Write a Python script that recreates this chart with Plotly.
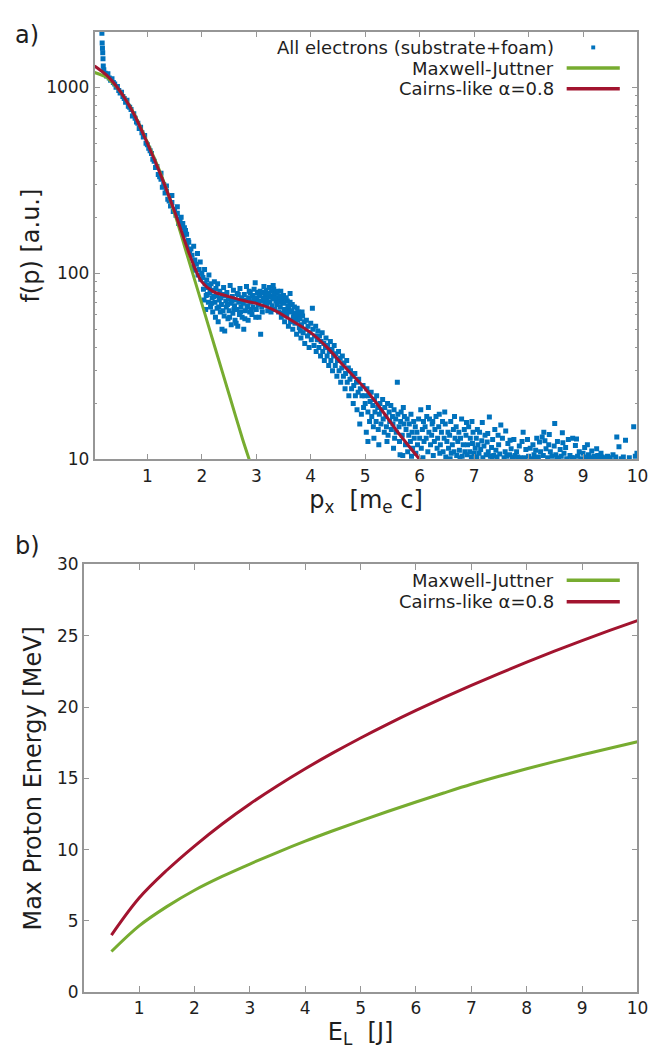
import plotly.graph_objects as go

# ---------------- panel a data ----------------
pts_peak = [(0.165, 1950), (0.17, 1730), (0.175, 1620), (0.18, 1530), (0.185, 1420), (0.19, 1300)]

pts_thermal = [
    (0.200, 1240), (0.225, 1190), (0.250, 1150), (0.275, 1180), (0.300, 1120), (0.325, 1090),
    (0.350, 1110), (0.375, 1060), (0.400, 1040), (0.425, 1000), (0.450, 1010), (0.475, 960),
    (0.500, 930), (0.525, 940), (0.550, 890), (0.575, 870), (0.600, 830), (0.625, 850),
    (0.650, 790), (0.675, 780), (0.700, 760), (0.725, 700), (0.750, 720), (0.775, 680),
    (0.800, 650), (0.825, 640), (0.850, 600), (0.875, 610), (0.900, 570), (0.925, 540),
    (0.950, 550), (0.975, 500), (1.000, 490), (1.025, 470), (1.050, 455), (1.075, 440),
    (1.100, 410), (1.125, 400), (1.150, 370), (1.175, 375), (1.200, 340), (1.225, 330),
    (1.250, 320), (1.275, 290), (1.300, 300), (1.325, 270), (1.350, 275), (1.375, 250),
    (1.400, 245), (1.425, 230), (1.450, 240), (1.475, 215), (1.500, 220), (1.525, 205),
    (1.550, 210), (1.575, 185), (1.600, 195), (1.625, 175), (1.650, 185), (1.675, 160),
    (1.700, 170), (1.725, 140), (1.750, 150), (1.775, 130), (1.800, 135),
    (1.45, 262), (1.62, 200), (1.68, 176), (1.72, 162), (1.76, 147), (1.55, 228),
    (1.35, 295), (1.25, 345),
]

pts_knee = [
    (1.82, 125), (1.84, 108), (1.85, 140), (1.87, 118), (1.88, 104), (1.90, 112),
    (1.92, 128), (1.93, 98), (1.95, 105), (1.97, 115), (1.98, 93), (2.00, 100),
]

pts_plateau = [
    (2.02, 95), (2.03, 82), (2.05, 105), (2.06, 88), (2.08, 76), (2.09, 92), (2.11, 84),
    (2.12, 70), (2.13, 98), (2.15, 79), (2.16, 66), (2.17, 88), (2.19, 74), (2.20, 62),
    (2.21, 81), (2.23, 90), (2.24, 70), (2.25, 58), (2.27, 76), (2.28, 65), (2.29, 88),
    (2.30, 55), (2.32, 72), (2.33, 80), (2.34, 62), (2.36, 68), (2.37, 50), (2.38, 77),
    (2.40, 84), (2.41, 59), (2.42, 49), (2.44, 71), (2.45, 66), (2.46, 79), (2.48, 57),
    (2.49, 73), (2.50, 63), (2.52, 86), (2.53, 69), (2.54, 53), (2.56, 75), (2.57, 61),
    (2.58, 81), (2.60, 67), (2.61, 56), (2.62, 72), (2.64, 64), (2.65, 78), (2.66, 52),
    (2.68, 70), (2.69, 60), (2.70, 83), (2.72, 66), (2.73, 74), (2.74, 58), (2.76, 69),
    (2.77, 50), (2.78, 77), (2.80, 63), (2.81, 72), (2.82, 85), (2.84, 67), (2.85, 56),
    (2.86, 74), (2.88, 62), (2.89, 79), (2.90, 70), (2.92, 60), (2.93, 76), (2.94, 66),
    (2.96, 82), (2.97, 71), (2.98, 89), (3.00, 64), (3.01, 74), (3.02, 79), (3.04, 68),
    (3.05, 58), (3.06, 76), (3.08, 47), (3.09, 71), (3.10, 66), (3.12, 79), (3.13, 74),
    (3.14, 85), (3.16, 69), (3.17, 77), (3.18, 81), (3.20, 72), (3.21, 63), (3.22, 78),
    (3.24, 84), (3.25, 70), (3.26, 75), (3.28, 80), (3.29, 67), (3.30, 73), (3.32, 82),
    (3.33, 77), (3.34, 64), (3.36, 71), (3.37, 79), (3.38, 68), (3.40, 74), (3.41, 62),
    (3.42, 70), (3.50, 76), (3.62, 78),
    (2.04, 72), (2.07, 64), (2.10, 77), (2.14, 86), (2.18, 69), (2.22, 75), (2.26, 83),
    (2.31, 66), (2.35, 74), (2.39, 63), (2.43, 76), (2.47, 68), (2.51, 58), (2.55, 71),
    (2.59, 64), (2.63, 54), (2.67, 77), (2.71, 62), (2.75, 71), (2.79, 57), (2.83, 66),
    (2.87, 80), (2.91, 64), (2.95, 73), (2.99, 58), (3.03, 70), (3.07, 80), (3.11, 62),
    (3.15, 73), (3.19, 68), (3.23, 76), (3.27, 62), (3.31, 86), (3.35, 74), (3.39, 80),
]

pts_fall = [
    (3.43, 75), (3.45, 80), (3.48, 70), (3.51, 64), (3.54, 60), (3.57, 71), (3.60, 65),
    (3.63, 55), (3.66, 68), (3.69, 61), (3.72, 57), (3.75, 65), (3.78, 59), (3.81, 49),
    (3.84, 62),
    (3.44, 66), (3.46, 58), (3.47, 72), (3.49, 61), (3.50, 69), (3.52, 55), (3.53, 64),
    (3.55, 74), (3.56, 59), (3.58, 67), (3.59, 52), (3.61, 62), (3.62, 70), (3.64, 56),
    (3.65, 63), (3.67, 50), (3.68, 58), (3.70, 66), (3.71, 54), (3.73, 60), (3.74, 47),
    (3.76, 56), (3.77, 62), (3.79, 51), (3.80, 57), (3.82, 45), (3.83, 53), (3.85, 59),
    (3.86, 48), (3.88, 55), (3.89, 42), (3.91, 50), (3.92, 56), (3.94, 46), (3.95, 52),
    (3.97, 40), (3.98, 48), (4.00, 54), (4.01, 44), (4.03, 65), (4.04, 50), (4.06, 41),
    (4.07, 46), (4.09, 52), (4.10, 38), (4.12, 44), (4.13, 49), (4.15, 40), (4.16, 46),
    (4.18, 36), (4.19, 43), (4.21, 48), (4.22, 38), (4.24, 42), (4.25, 34), (4.27, 40),
    (4.28, 45), (4.30, 36), (4.31, 41), (4.33, 32), (4.34, 38), (4.36, 43), (4.37, 34),
    (4.39, 39), (4.40, 30), (4.42, 36), (4.43, 41), (4.45, 32), (4.46, 37), (4.48, 28),
    (4.49, 34), (4.51, 38), (4.52, 30), (4.54, 35), (4.55, 26), (4.57, 31), (4.58, 36),
    (4.60, 28), (4.61, 33), (4.63, 24), (4.64, 29), (4.66, 34), (4.67, 26), (4.69, 31),
    (4.70, 22), (4.72, 27), (4.73, 30), (4.75, 24), (4.76, 28), (4.78, 20), (4.79, 25),
    (4.81, 29), (4.82, 22), (4.84, 26), (4.85, 18.5), (4.87, 23), (4.88, 27), (4.90, 15.5),
    (4.91, 24), (4.93, 17.5), (4.94, 22), (4.96, 25), (4.97, 19), (4.99, 22),
]

pts_shoulder = [
    (5.00, 20), (5.02, 14), (5.03, 24), (5.05, 18), (5.06, 22), (5.08, 16), (5.09, 20.5),
    (5.11, 23), (5.12, 17), (5.14, 19.5), (5.15, 15), (5.17, 21), (5.18, 18), (5.20, 16),
    (5.21, 22), (5.23, 19), (5.24, 14.5), (5.26, 17.5), (5.27, 20), (5.29, 15.5), (5.30, 18.5),
    (5.32, 21), (5.33, 16.5), (5.35, 14), (5.36, 19), (5.38, 17), (5.39, 15), (5.41, 20),
    (5.42, 13.5), (5.44, 18), (5.45, 16), (5.47, 19.5), (5.48, 14.5), (5.50, 17), (5.51, 15.5),
    (5.53, 18.5), (5.54, 13), (5.56, 16.5), (5.57, 14), (5.59, 26), (5.60, 17.5), (5.62, 15),
    (5.63, 12.5), (5.65, 16), (5.66, 18), (5.68, 13.5), (5.69, 10.5), (5.71, 15.5), (5.72, 17),
    (5.74, 12), (5.75, 14.5), (5.77, 16.5), (5.78, 11), (5.80, 13.5), (5.81, 15.5), (5.83, 12.5),
    (5.84, 17.5), (5.86, 14), (5.87, 11.5), (5.89, 16), (5.90, 13), (5.92, 15), (5.93, 10.8),
    (5.95, 14), (5.96, 12), (5.98, 16.5), (6.00, 13),
    (5.05, 12.5), (5.16, 13), (5.25, 12), (5.40, 12.5), (5.52, 11.5), (5.64, 10.6), (5.70, 19),
    (5.85, 10.4),
]

pts_tail = [
    (6.02, 18.5), (6.03, 11.5), (6.05, 14.5), (6.07, 16), (6.08, 12.5), (6.10, 15), (6.12, 13),
    (6.13, 17), (6.15, 11), (6.17, 14), (6.18, 16.5), (6.20, 12), (6.22, 13.5), (6.23, 15.5),
    (6.25, 10.5), (6.27, 12.5), (6.28, 14.5), (6.30, 17), (6.32, 11.5), (6.33, 13), (6.35, 15),
    (6.37, 10.8), (6.38, 12), (6.40, 14), (6.42, 16), (6.43, 11), (6.45, 13), (6.47, 15.5),
    (6.48, 10.3), (6.50, 12.5), (6.52, 14), (6.53, 11.5), (6.55, 13.5), (6.57, 16), (6.58, 10.8),
    (6.60, 12), (6.62, 14.5), (6.63, 11), (6.65, 13), (6.67, 15), (6.68, 10.5), (6.70, 12.5),
    (6.72, 14), (6.73, 11.2), (6.75, 13), (6.77, 16.5), (6.78, 10.4), (6.80, 12), (6.82, 14.5),
    (6.83, 11), (6.85, 13.5), (6.87, 10.6), (6.88, 12), (6.90, 15), (6.92, 11), (6.93, 13),
    (6.95, 10.3), (6.97, 12.2), (6.98, 14), (7.00, 10.8),
    (6.06, 10.2), (6.16, 19), (6.24, 16), (6.36, 17.5), (6.46, 18), (6.56, 10.1), (6.64, 17),
    (6.74, 10.2), (6.86, 15.8), (6.96, 16),
    (7.02, 11.5), (7.04, 13), (7.05, 10.3), (7.07, 12), (7.09, 10.8), (7.10, 14), (7.12, 11.3),
    (7.14, 12.6), (7.16, 10.2), (7.18, 11.8), (7.20, 13.5), (7.22, 10.6), (7.24, 12.4), (7.26, 11),
    (7.28, 16.9), (7.30, 10.4), (7.32, 11.6), (7.34, 12.8), (7.36, 10.5), (7.38, 14.5), (7.40, 11.2),
    (7.42, 10.3), (7.45, 12), (7.47, 10.7), (7.49, 15.3), (7.52, 13), (7.55, 10.2), (7.57, 11),
    (7.60, 10.4), (7.62, 12.2), (7.65, 10.6), (7.68, 11.4), (7.70, 10.1), (7.73, 12.8), (7.75, 10.5),
    (7.78, 11), (7.80, 10.3), (7.83, 11.8), (7.85, 10.2), (7.88, 12.5), (7.90, 14), (7.93, 10.2),
    (7.95, 11.3),
    (7.06, 14.5), (7.15, 15.8), (7.25, 13.8), (7.33, 10.1), (7.44, 13.5), (7.58, 14.2), (7.66, 12.7),
    (7.72, 10.3), (7.87, 10.1), (7.98, 12.8),
    (8.00, 10.4), (8.03, 11.5), (8.05, 10.1), (8.08, 12), (8.10, 10.6), (8.13, 11.2), (8.15, 13),
    (8.18, 10.3), (8.20, 12.4), (8.22, 11), (8.25, 13.2), (8.27, 10.5), (8.30, 12.6), (8.32, 11.4),
    (8.35, 10.2), (8.37, 12), (8.40, 11), (8.43, 10.4), (8.48, 15.6), (8.47, 11.8), (8.50, 10.6),
    (8.53, 12.5), (8.55, 10.2), (8.58, 11.3), (8.60, 10.4), (8.63, 12.3), (8.65, 10.8), (8.68, 11.6),
    (8.70, 10.1), (8.73, 12.8), (8.76, 10.5), (8.81, 13), (8.83, 10.2), (8.86, 11.9), (8.90, 10.4),
    (8.93, 11), (8.96, 10.1), (9.00, 10.8), (9.03, 11.6), (9.06, 10.3), (9.10, 10.6), (9.13, 10.2),
    (9.16, 11.1), (9.20, 10.4), (9.23, 10.1), (9.27, 10.5), (9.30, 10.2), (9.35, 10.3), (9.40, 10.1),
    (9.45, 10.4), (9.50, 10.2), (9.60, 10.3), (9.66, 11.7), (9.70, 10.1), (9.78, 12.7), (9.85, 10.2),
    (9.93, 15), (9.96, 10.4), (9.99, 10.8),
    (8.12, 10.1), (8.28, 14), (8.38, 13.6), (8.52, 10.1), (8.62, 13.9), (8.79, 10.2), (8.88, 12.9),
    (9.08, 12), (9.18, 10.1), (9.25, 11.4), (9.33, 10.8), (9.42, 10.2), (9.55, 10.6), (9.62, 13.2),
    (9.74, 10.3),
]

# Model curves (panel a)
mj_px = [0.03, 0.25, 0.5, 0.75, 1.0, 1.25, 1.5, 1.75, 2.0, 2.25, 2.5, 2.75, 2.87]
mj_f = [1200, 1130, 950, 725, 505, 340, 210, 120, 68.7, 39.2, 22.4, 12.8, 10]

cairns_px = [0.03, 0.25, 0.5, 0.75, 1.0, 1.25, 1.5, 1.75, 1.9, 2.0, 2.2, 2.5, 2.8, 3.0,
             3.3, 3.6, 4.0, 4.3, 4.6, 5.0, 5.3, 5.6, 6.0]
cairns_f = [1300, 1160, 950, 720, 500, 335, 215, 132, 102, 90, 80, 75, 71, 69,
            64, 57, 48, 40, 32, 24, 18.5, 14, 10]

# ---------------- panel b data ----------------
EL = [0.5, 1, 1.5, 2, 2.5, 3, 3.5, 4, 4.5, 5, 5.5, 6, 6.5, 7, 7.5, 8, 8.5, 9, 9.5, 10]
Ep_mj = [2.85, 4.65, 6.0, 7.15, 8.12, 8.99, 9.81, 10.59, 11.32, 12.02, 12.69, 13.34, 13.97,
         14.58, 15.14, 15.67, 16.17, 16.65, 17.11, 17.56]
Ep_cairns = [4.0, 6.6, 8.55, 10.25, 11.8, 13.2, 14.48, 15.67, 16.78, 17.83, 18.82, 19.76, 20.66,
             21.52, 22.35, 23.15, 23.92, 24.66, 25.37, 26.06]

BLUE = "rgb(0,114,189)"
GREEN = "rgb(119,172,48)"
RED = "rgb(162,20,47)"
FRAME = "rgb(150,150,150)"
TXT = "rgb(30,30,30)"
FONT = "DejaVu Sans"

W, H = 670, 1055

all_pts = pts_peak + pts_thermal + pts_knee + pts_plateau + pts_fall + pts_shoulder + pts_tail
ex = [p[0] for p in all_pts]
ey = [p[1] for p in all_pts]

fig = go.Figure()
fig.add_trace(go.Scatter(x=ex, y=ey, mode="markers", name="All electrons (substrate+foam)",
                         marker=dict(symbol="square", size=5, color=BLUE, line=dict(width=0)),
                         xaxis="x", yaxis="y", showlegend=False))
fig.add_trace(go.Scatter(x=mj_px, y=mj_f, mode="lines", name="Maxwell-Juttner",
                         line=dict(color=GREEN, width=3, shape="spline", smoothing=0.6),
                         xaxis="x", yaxis="y", showlegend=False))
fig.add_trace(go.Scatter(x=cairns_px, y=cairns_f, mode="lines", name="Cairns-like α=0.8",
                         line=dict(color=RED, width=3, shape="spline", smoothing=0.8),
                         xaxis="x", yaxis="y", showlegend=False))
fig.add_trace(go.Scatter(x=EL, y=Ep_mj, mode="lines", name="Maxwell-Juttner",
                         line=dict(color=GREEN, width=3, shape="spline"),
                         xaxis="x2", yaxis="y2", showlegend=False))
fig.add_trace(go.Scatter(x=EL, y=Ep_cairns, mode="lines", name="Cairns-like α=0.8",
                         line=dict(color=RED, width=3, shape="spline"),
                         xaxis="x2", yaxis="y2", showlegend=False))

def px_x(v):
    return v / W

def px_y(v):
    return 1 - v / H

common = dict(showline=True, mirror="ticks", linecolor=FRAME, linewidth=1.5,
              ticks="inside", ticklen=6, tickwidth=1.2, tickcolor=FRAME,
              showgrid=False, zeroline=False,
              tickfont=dict(family=FONT, size=17, color=TXT))

TITLE_FONT = dict(family=FONT, size=24, color=TXT)

# panel a geometry (pixels)
A_L, A_R, A_T, A_B = 88, 640, 14, 450
# panel b geometry (pixels)
B_L, B_R, B_T, B_B = 77, 640, 557, 993

fig.update_layout(
    width=W, height=H, margin=dict(l=0, r=0, t=0, b=0),
    paper_bgcolor="white", plot_bgcolor="white",
    font=dict(family=FONT, size=17, color=TXT),
    xaxis=dict(domain=[px_x(A_L), px_x(A_R)], anchor="y", range=[0.03, 10],
               tickvals=list(range(1, 11)),
               title=dict(text="p<sub>x</sub>  [m<sub>e</sub> c]", font=TITLE_FONT, standoff=4),
               **common),
    yaxis=dict(domain=[px_y(A_B), px_y(A_T)], anchor="x", type="log", range=[1, 3.298],
               tickvals=[10, 100, 1000], ticktext=["10", "100", "1000"],
               minor=dict(ticks="inside", ticklen=3, tickcolor=FRAME,
                          tickvals=[20, 30, 40, 50, 60, 70, 80, 90, 200, 300, 400, 500,
                                    600, 700, 800, 900]),
               title=dict(text="f(p) [a.u.]", font=TITLE_FONT, standoff=0),
               **common),
    xaxis2=dict(domain=[px_x(B_L), px_x(B_R)], anchor="y2", range=[0, 10],
                tickvals=list(range(1, 11)),
                title=dict(text="E<sub>L</sub>  [J]", font=TITLE_FONT, standoff=4),
                **common),
    yaxis2=dict(domain=[px_y(B_B), px_y(B_T)], anchor="x2", range=[0, 30],
                tickvals=[0, 5, 10, 15, 20, 25, 30],
                title=dict(text="Max Proton Energy [MeV]", font=TITLE_FONT, standoff=9),
                **common),
)

# panel labels
fig.add_annotation(x=px_x(5), y=px_y(17), xref="paper", yref="paper", text="a)",
                   showarrow=False, xanchor="left", yanchor="middle", font=dict(size=24, color=TXT))
fig.add_annotation(x=px_x(5), y=px_y(538), xref="paper", yref="paper", text="b)",
                   showarrow=False, xanchor="left", yanchor="middle", font=dict(size=24, color=TXT))

# legends (text right-aligned, sample on the right)
TXT_R = 557
LINE_X0, LINE_X1 = 568, 622

def legend_entry(text, ypix, kind, color):
    fig.add_annotation(x=px_x(TXT_R), y=px_y(ypix), xref="paper", yref="paper", text=text,
                       showarrow=False, xanchor="right", yanchor="middle",
                       font=dict(size=18, color=TXT))
    if kind == "line":
        fig.add_shape(type="line", xref="paper", yref="paper",
                      x0=px_x(LINE_X0), x1=px_x(LINE_X1), y0=px_y(ypix), y1=px_y(ypix),
                      line=dict(color=color, width=3.5))
    else:
        cx = (LINE_X0 + LINE_X1) / 2
        fig.add_shape(type="rect", xref="paper", yref="paper",
                      x0=px_x(cx - 2), x1=px_x(cx + 2), y0=px_y(ypix - 2), y1=px_y(ypix + 2),
                      line=dict(width=0), fillcolor=color)

legend_entry("All electrons (substrate+foam)", 30, "marker", BLUE)
legend_entry("Maxwell-Juttner", 51, "line", GREEN)
legend_entry("Cairns-like α=0.8", 72, "line", RED)
legend_entry("Maxwell-Juttner", 573, "line", GREEN)
legend_entry("Cairns-like α=0.8", 595, "line", RED)

fig.write_html("out.html")
